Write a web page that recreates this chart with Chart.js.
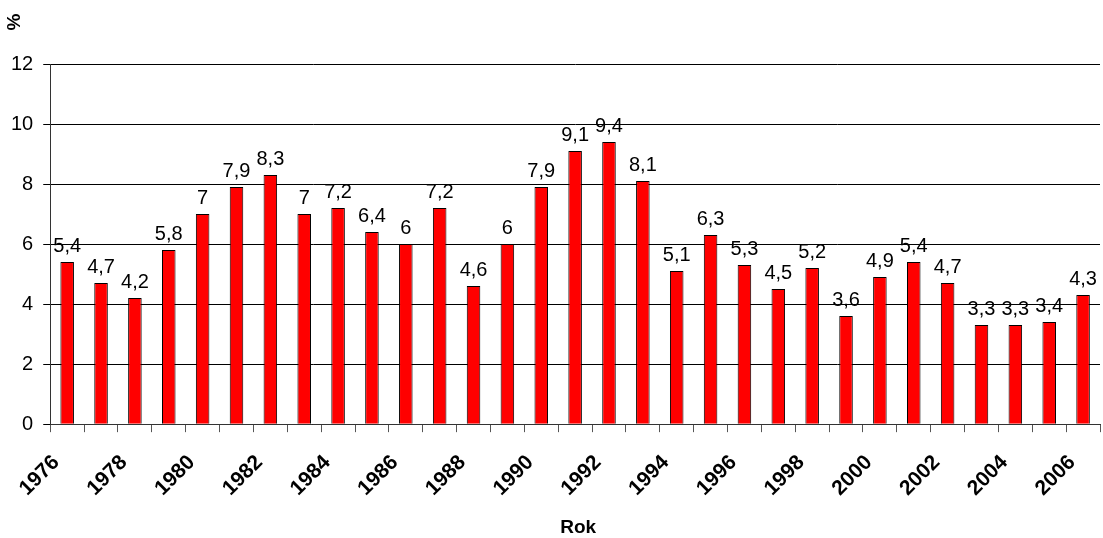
<!DOCTYPE html>
<html>
<head>
<meta charset="utf-8">
<script src="https://cdn.jsdelivr.net/npm/chart.js@4"></script>
<style>
  html, body { margin: 0; padding: 0; background: #fff; }
  #wrap { width: 1103px; height: 538px; position: relative; }
</style>
</head>
<body>
<div id="wrap"><canvas id="chart"></canvas></div>
<script>
const years = [];
for (let y = 1976; y <= 2006; y++) years.push(String(y));

const values = [5.4, 4.7, 4.2, 5.8, 7, 7.9, 8.3, 7, 7.2, 6.4, 6, 7.2, 4.6, 6, 7.9,
    9.1, 9.4, 8.1, 5.1, 6.3, 5.3, 4.5, 5.2, 3.6, 4.9, 5.4, 4.7, 3.3, 3.3, 3.4, 4.3];

const yTicks = [0, 2, 4, 6, 8, 10, 12];

const FONT = '"Liberation Sans", Arial, sans-serif';

// value labels over the bars, with a decimal comma
const valueLabels = {
    id: 'valueLabels',
    afterDatasetsDraw(chart) {
        const ctx = chart.ctx;
        const meta = chart.getDatasetMeta(0);
        ctx.save();
        ctx.font = '20px ' + FONT;
        ctx.fillStyle = '#000';
        ctx.textAlign = 'center';
        ctx.textBaseline = 'alphabetic';
        meta.data.forEach((bar, i) => {
            ctx.fillText(String(values[i]).replace('.', ','), bar.x, bar.y - 10);
        });
        ctx.restore();
    }
};

// axis titles: "%" above the y axis, "Rok" under the x labels
const axisTitles = {
    id: 'axisTitles',
    afterDraw(chart) {
        const ctx = chart.ctx;
        const area = chart.chartArea;
        ctx.save();
        ctx.fillStyle = '#000';
        ctx.textAlign = 'center';
        ctx.textBaseline = 'middle';
        ctx.font = 'bold 19px ' + FONT;
        ctx.fillText('Rok', (area.left + area.right) / 2 + 3, 528);
        ctx.translate(15, 22);
        ctx.rotate(-Math.PI / 2);
        ctx.font = 'bold 19px ' + FONT;
        ctx.fillText('%', 0, 0);
        ctx.restore();
    }
};

const ctx = document.getElementById('chart').getContext('2d');
new Chart(ctx, {
    type: 'bar',
    data: {
        labels: years,
        datasets: [{
            data: values,
            backgroundColor: '#ff0000',
            borderColor: '#000',
            borderWidth: 1,
            barPercentage: 0.8,
            categoryPercentage: 0.5
        }]
    },
    options: {
        responsive: true,
        maintainAspectRatio: false,
        animation: false,
        layout: { padding: { top: 64, right: 3, left: 1, bottom: 19 } },
        plugins: {
            legend: { display: false },
            tooltip: { enabled: false }
        },
        scales: {
            x: {
                afterFit: scale => { scale.paddingRight = 0; },
                grid: { offset: true, drawOnChartArea: false, color: '#555', tickLength: 8 },
                border: { color: '#333' },
                ticks: {
                    autoSkip: false,
                    maxRotation: 45,
                    minRotation: 45,
                    labelOffset: -11,
                    color: '#000',
                    padding: 18,
                    font: { family: FONT, size: 21, weight: 'bold' },
                    callback: (v, i) => (i % 2 === 0 ? years[i] : '')
                }
            },
            y: {
                min: 0,
                max: 12,
                afterBuildTicks: axis => { axis.ticks = yTicks.map(v => ({ value: v })); },
                grid: { color: '#000', tickLength: 7 },
                border: { color: '#333' },
                ticks: {
                    color: '#000',
                    padding: 10,
                    font: { family: FONT, size: 20 }
                }
            }
        }
    },
    plugins: [valueLabels, axisTitles]
});
</script>
</body>
</html>
